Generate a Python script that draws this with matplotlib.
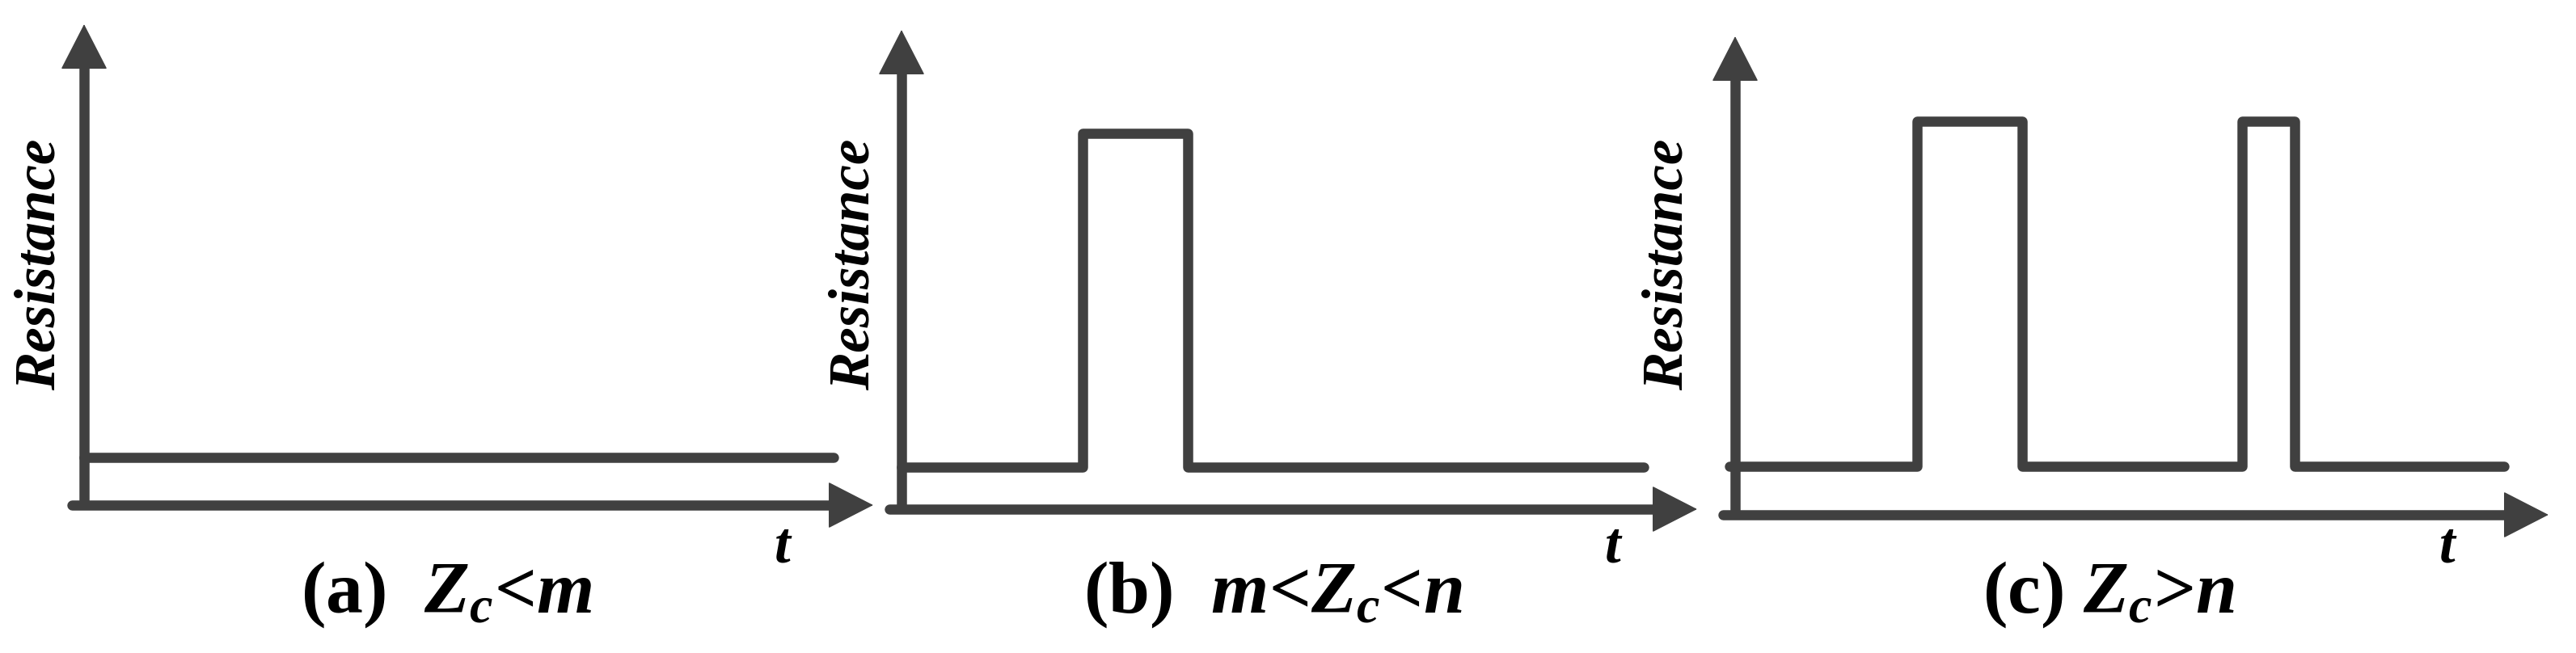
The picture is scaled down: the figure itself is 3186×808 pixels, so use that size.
import matplotlib.pyplot as plt

# Dữ liệu: các mốc thời gian (edges) và mức điện trở (levels) cho từng hình
a_edges = [0, 95.0]
a_levels = [9.9]
b_edges = [0, 22.8, 36.0, 93.3]
b_levels = [8.8, 78.4, 8.8]
c_edges = [-0.7, 22.4, 35.3, 62.3, 68.8, 94.5]
c_levels = [10.1, 82.3, 10.1, 82.3, 10.1]

captions = ['(a)  $Z_c$<$m$', '(b)  $m$<$Z_c$<$n$', '(c) $Z_c$>$n$']
ylabel = 'Resistance'
xlabel = 't'

W, H = 3186, 808
col = '#404040'
lw = 9

plt.rcParams['mathtext.fontset'] = 'custom'
plt.rcParams['mathtext.it'] = 'Liberation Serif:italic:bold'
plt.rcParams['mathtext.rm'] = 'Liberation Serif:bold'

fig = plt.figure(figsize=(W / 100, H / 100), dpi=100)

# vị trí các khung (pixel): trái, trục x, rộng, cao
boxes = [(104, 625, 976, 595), (1115, 630, 984, 593), (2146, 637, 1006, 592)]
label_x = [50, 1057, 2063]
t_x = [968, 1995, 3027]
cap_x = [552, 1574, 2608]
panels = [(a_edges, a_levels), (b_edges, b_levels), (c_edges, c_levels)]

for i, (edges, levels) in enumerate(panels):
    left, base, w, h = boxes[i]
    ax = fig.add_axes([left / W, (H - base) / H, w / W, h / H])
    ax.set_xlim(0, 100)
    ax.set_ylim(0, 100)
    ax.axis('off')

    # trục x và trục y có mũi tên
    ax.plot([-0.015, 0.95], [0, 0], transform=ax.transAxes, color=col, lw=lw,
            solid_capstyle='round', clip_on=False)
    ax.plot([0, 0], [0, 0.93], transform=ax.transAxes, color=col, lw=lw,
            solid_capstyle='butt', clip_on=False)
    head = dict(arrowstyle='-|>,head_length=3.8,head_width=1.95', mutation_scale=10,
                color=col, lw=1, shrinkA=0, shrinkB=0)
    ax.annotate('', xy=(1, 0), xytext=(0.93, 0), xycoords='axes fraction',
                arrowprops=head, annotation_clip=False)
    ax.annotate('', xy=(0, 1), xytext=(0, 0.9), xycoords='axes fraction',
                arrowprops=head, annotation_clip=False)

    # tín hiệu điện trở dạng bậc thang
    ax.stairs(levels, edges, baseline=None, color=col, lw=lw,
              capstyle='round', joinstyle='round', clip_on=False)

    fig.text(label_x[i] / W, (H - 327) / H, ylabel, rotation=90, ha='center', va='center',
             fontsize=51, family='Liberation Serif', style='italic', weight='bold')
    fig.text(t_x[i] / W, (H - 678) / H, xlabel, ha='center', va='center',
             fontsize=51, family='Liberation Serif', style='italic', weight='bold')
    fig.text(cap_x[i] / W, (H - 758) / H, captions[i], ha='center', va='baseline',
             fontsize=66, family='Liberation Serif', weight='bold')

fig.savefig('out.png', dpi=100, facecolor='white')
